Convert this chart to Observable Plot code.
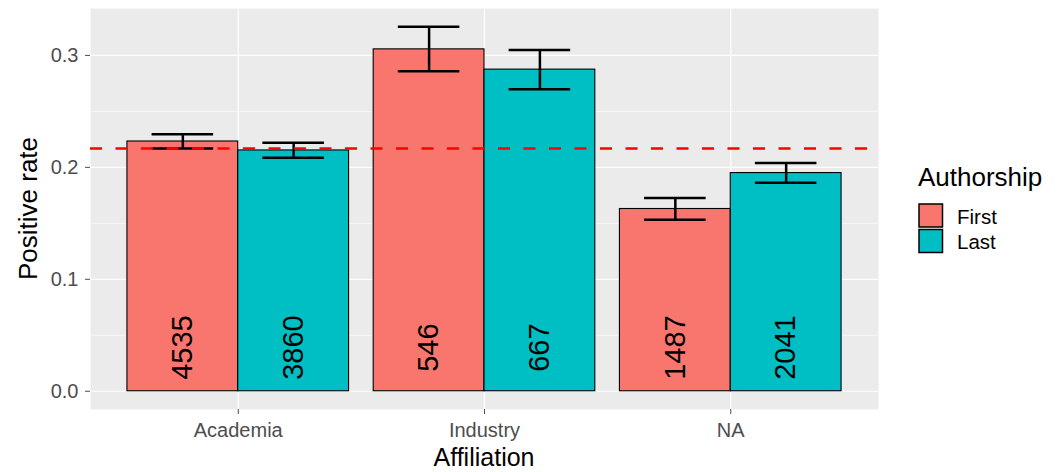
<!DOCTYPE html>
<html>
<head>
<meta charset="utf-8">
<script src="https://cdn.jsdelivr.net/npm/d3@7"></script>
<script src="https://cdn.jsdelivr.net/npm/@observablehq/plot@0.6"></script>
<style>
  body { margin: 0; background: white; }
  #wrap { position: relative; width: 1061px; height: 472px; font-family: "Liberation Sans", Arial, sans-serif; }
  #wrap > svg { position: absolute; left: 0; top: 0; }
</style>
</head>
<body>
<div id="wrap"></div>
<script>
// ---- data ----
const affiliations = ["Academia", "Industry", "NA"];
const authorship = ["First", "Last"];
const colors = ["#F8766D", "#00BFC4"];
// positive rate per affiliation, [First, Last]
const rateFirst = [0.2231, 0.3054, 0.1628];
const rateLast  = [0.2151, 0.2873, 0.1949];
const loFirst   = [0.2168, 0.2858, 0.1533];
const hiFirst   = [0.2296, 0.3256, 0.1726];
const loLast    = [0.2086, 0.2698, 0.1863];
const hiLast    = [0.2219, 0.3048, 0.2038];
const countFirst = [4535, 546, 1487];
const countLast  = [3860, 667, 2041];
const overallRate = 0.2168;
const countLabelY = 0.039;
const yMajorTicks = [0.0, 0.1, 0.2, 0.3];
const yMinorTicks = [0.05, 0.15, 0.25];
const xTicks = [1, 2, 3];

// ---- table ----
const dodge = 0.9, errWidth = 0.25;
const rows = [];
affiliations.forEach((a, i) => {
  authorship.forEach((au, j) => {
    rows.push({
      aff: a, auth: au, i: i + 1, j,
      rate: j ? rateLast[i] : rateFirst[i],
      lo: j ? loLast[i] : loFirst[i],
      hi: j ? hiLast[i] : hiFirst[i],
      n: j ? countLast[i] : countFirst[i]
    });
  });
});
const left = d => d.i - dodge / 2 + d.j * dodge / 2;
const right = d => left(d) + dodge / 2;
const center = d => left(d) + dodge / 4;

const W = 1061, H = 472;
const chart = Plot.plot({
  width: W, height: H,
  marginLeft: 90, marginRight: 183, marginTop: 8, marginBottom: 63,
  x: { type: "linear", domain: [0.4, 3.6] },
  y: { domain: [-0.0163, 0.3419] },
  color: { domain: authorship, range: colors },
  style: { fontFamily: "Liberation Sans, Arial, sans-serif", background: "white", overflow: "visible" },
  marks: [
    Plot.frame({ fill: "#EBEBEB", stroke: null }),
    Plot.ruleY(yMinorTicks, { stroke: "white", strokeWidth: 0.6 }),
    Plot.ruleY(yMajorTicks, { stroke: "white", strokeWidth: 1.2 }),
    Plot.ruleX(xTicks, { stroke: "white", strokeWidth: 1.2 }),
    Plot.rect(rows, { x1: left, x2: right, y1: d => 0, y2: "rate", fill: "auth", stroke: "black", strokeWidth: 1.1 }),
    Plot.text(rows, { x: center, y: d => countLabelY, text: d => String(d.n), rotate: -90, fontSize: 29, fill: "black" }),
    Plot.ruleX(rows, { x: center, y1: "lo", y2: "hi", stroke: "black", strokeWidth: 2.5 }),
    Plot.ruleY(rows, { y: "hi", x1: d => center(d) - errWidth / 2, x2: d => center(d) + errWidth / 2, stroke: "black", strokeWidth: 2.5 }),
    Plot.ruleY(rows, { y: "lo", x1: d => center(d) - errWidth / 2, x2: d => center(d) + errWidth / 2, stroke: "black", strokeWidth: 2.5 }),
    Plot.ruleY([overallRate], { stroke: "#FF0000", strokeWidth: 2.5, strokeDasharray: "12,13.5" }),
    Plot.axisY({ ticks: yMajorTicks, tickFormat: d3.format(".1f"), tickSize: 5, tickPadding: 7, fontSize: 20, color: "#4D4D4D", label: null }),
    Plot.axisX({ ticks: xTicks, tickFormat: d => affiliations[d - 1], tickSize: 5, tickPadding: 8, fontSize: 20, color: "#4D4D4D", label: null })
  ]
});
const wrap = document.getElementById("wrap");
wrap.appendChild(chart);

// ---- titles and legend overlay ----
const ov = d3.create("svg").attr("width", W).attr("height", H)
  .style("pointer-events", "none")
  .style("font-family", "Liberation Sans, Arial, sans-serif");
ov.append("text").attr("transform", "translate(37,208.5) rotate(-90)")
  .attr("text-anchor", "middle").attr("font-size", 26).attr("fill", "black").text("Positive rate");
ov.append("text").attr("x", 484).attr("y", 466)
  .attr("text-anchor", "middle").attr("font-size", 25).attr("fill", "black").text("Affiliation");
ov.append("text").attr("x", 918).attr("y", 185.5)
  .attr("font-size", 26).attr("fill", "black").text("Authorship");
authorship.forEach((a, k) => {
  ov.append("rect").attr("x", 919).attr("y", 204 + k * 25.5).attr("width", 23.5).attr("height", 23)
    .attr("fill", colors[k]).attr("stroke", "black").attr("stroke-width", 1.5);
  ov.append("text").attr("x", 957).attr("y", 223.5 + k * 25.5)
    .attr("font-size", 20.5).attr("fill", "black").text(a);
});
wrap.appendChild(ov.node());
</script>
</body>
</html>
